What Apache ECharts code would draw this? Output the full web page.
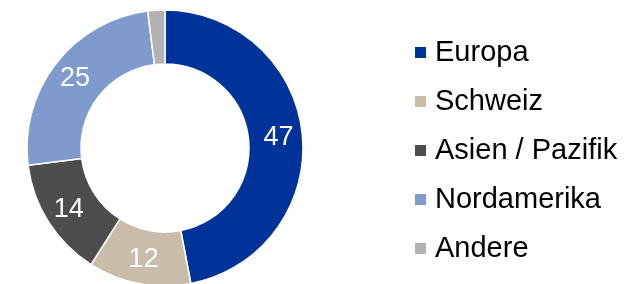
<!DOCTYPE html>
<html><head><meta charset="utf-8">
<script src="https://cdn.jsdelivr.net/npm/echarts@6/dist/echarts.min.js"></script>
<style>html,body{margin:0;padding:0;background:#fff}#c{width:630px;height:284px}</style>
</head><body><div id="c"></div>
<script>
const categories = ["Europa", "Schweiz", "Asien / Pazifik", "Nordamerika", "Andere"];
const values = [47, 12, 14, 25, 2];
const colors = ["#003399", "#C9BCA9", "#4D4D4D", "#7F9BCD", "#B2B2B2"];
const showLabel = [true, true, true, true, false];

const chart = echarts.init(document.getElementById('c'), null, {renderer: 'canvas'});
chart.setOption({
  animation: false,
  textStyle: {fontFamily: 'Liberation Sans'},
  legend: {
    orient: 'vertical', left: 408, top: 33,
    itemWidth: 13, itemHeight: 13, itemGap: 20,
    icon: 'rect',
    textStyle: {fontSize: 29, lineHeight: 29, color: '#000', fontFamily: 'Liberation Sans', padding: [0,0,0,3]},
    data: categories
  },
  series: [{
    type: 'pie',
    center: [165, 148],
    radius: [84, 138],
    startAngle: 90,
    clockwise: true,
    avoidLabelOverlap: false,
    itemStyle: {borderColor: '#fff', borderWidth: 1.5},
    label: {show: true, position: 'inside', color: '#fff', fontSize: 27, fontFamily: 'Liberation Sans', formatter: '{c}', padding: [6,0,0,0]},
    labelLine: {show: false},
    data: categories.map((n, i) => ({name: n, value: values[i], itemStyle: {color: colors[i]}, label: {show: showLabel[i]}}))
  }]
});
</script></body></html>
